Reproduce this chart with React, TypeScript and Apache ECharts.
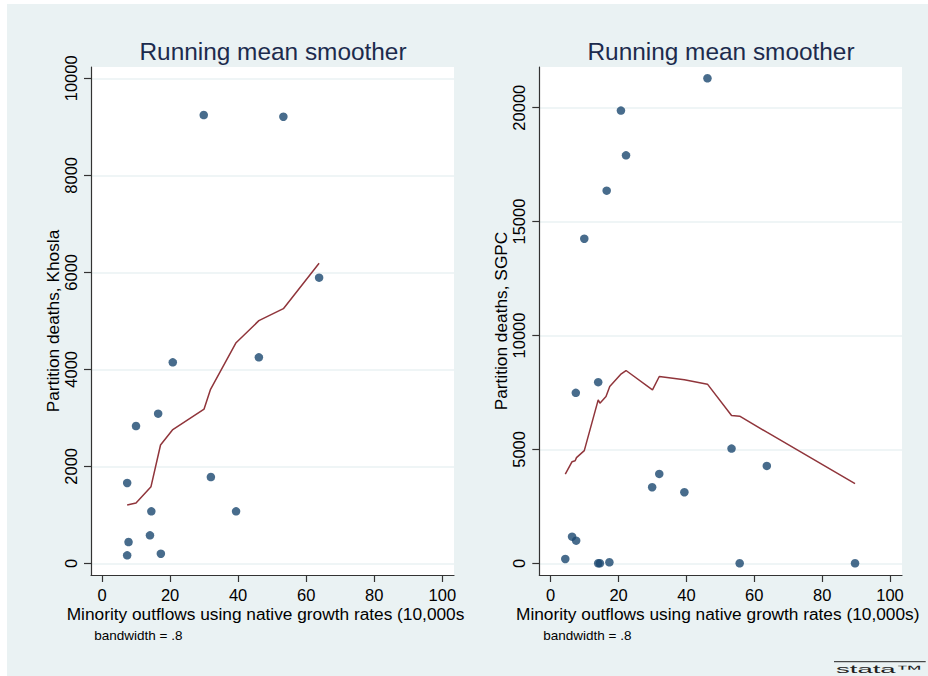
import React, { useEffect, useRef } from "react";
import * as echarts from "echarts";

// ---------- data ----------
const xTicks = [0, 20, 40, 60, 80, 100];
const khoslaTicks = [0, 2000, 4000, 6000, 8000, 10000];
const sgpcTicks = [0, 5000, 10000, 15000, 20000];

const khoslaX = [29.9, 53.3, 63.8, 20.8, 46.1, 16.5, 10.0, 7.4, 32.0, 14.5, 39.4, 14.1, 7.8, 7.4, 17.3];
const khoslaY = [9243, 9208, 5889, 4144, 4247, 3085, 2831, 1656, 1779, 1072, 1072, 577, 439, 165, 198];

const khoslaSmoothX = [7.4, 10.0, 14.4, 17.2, 20.7, 30.0, 31.9, 39.4, 46.1, 53.3, 63.8];
const khoslaSmoothY = [1202, 1243, 1580, 2439, 2749, 3181, 3588, 4549, 5003, 5250, 6186];

const sgpcX = [46.2, 20.7, 22.2, 16.5, 9.9, 14.0, 7.4, 53.3, 63.7, 32.0, 29.9, 39.4, 6.3, 7.5, 4.3, 14.0, 14.5, 17.3, 55.7, 89.7];
const sgpcY = [21292, 19873, 17909, 16358, 14249, 7952, 7482, 5035, 4275, 3924, 3339, 3119, 1169, 993, 189, 0, 0, 44, 0, 0];

const sgpcSmoothX = [4.3, 6.3, 7.2, 7.6, 9.9, 14.0, 14.5, 16.3, 17.4, 20.8, 22.2, 30.0, 32.0, 39.4, 46.2, 53.3, 55.7, 63.7, 89.7];
const sgpcSmoothY = [3910, 4460, 4500, 4640, 4945, 7175, 7030, 7320, 7760, 8317, 8463, 7614, 8199, 8053, 7864, 6487, 6458, 5755, 3497];

const titleText = "Running mean smoother";
const xTitle = "Minority outflows using native growth rates (10,000s)";
const yTitleLeft = "Partition deaths, Khosla";
const yTitleRight = "Partition deaths, SGPC";
const noteText = "bandwidth = .8";

// ---------- styling ----------
const FONT = "'Liberation Sans', Arial, sans-serif";
const AXIS_COLOR = "#333333";
const GRID_COLOR = "#eaf2f3";
const DOT_COLOR = "#1a476f";
const LINE_COLOR = "#90353b";
const TITLE_COLOR = "#1c2b4d";

function pairs(xs: number[], ys: number[]) {
  return xs.map((x, i) => [x, ys[i]]);
}

const plain = (v: number) => String(v);

function xAxisFor(gridIndex: number, min: number, max: number) {
  return {
    type: "value",
    gridIndex,
    min,
    max,
    axisLine: { show: true, onZero: false, lineStyle: { color: AXIS_COLOR, width: 1.2 } },
    axisTick: { show: true, length: 7, customValues: xTicks, lineStyle: { color: AXIS_COLOR, width: 1.2 } },
    axisLabel: { customValues: xTicks, formatter: plain, margin: 11, fontSize: 16.5, color: "#000", fontFamily: FONT },
    splitLine: { show: false },
  };
}

function yAxisFor(gridIndex: number, min: number, max: number, ticks: number[]) {
  return {
    type: "value",
    gridIndex,
    min,
    max,
    axisLine: { show: true, onZero: false, lineStyle: { color: AXIS_COLOR, width: 1.2 } },
    axisTick: { show: true, length: 7, customValues: ticks, lineStyle: { color: AXIS_COLOR, width: 1.2 } },
    axisLabel: { customValues: ticks, formatter: plain, rotate: 90, margin: 12, fontSize: 16.5, color: "#000", fontFamily: FONT },
    splitLine: { show: true, lineStyle: { color: GRID_COLOR, width: 1.6 } },
  };
}

export default function App() {
  const ref = useRef<HTMLDivElement>(null);

  useEffect(() => {
    if (!ref.current) return;
    const chart = echarts.init(ref.current, null, { renderer: "svg" });

    const option: any = {
      animation: false,
      backgroundColor: "transparent",
      grid: [
        { left: 91, top: 67, width: 363, height: 508, show: true, backgroundColor: "#ffffff", borderWidth: 0, outerBoundsMode: "none" },
        { left: 539.3, top: 67, width: 362.7, height: 508, show: true, backgroundColor: "#ffffff", borderWidth: 0, outerBoundsMode: "none" },
      ],
      xAxis: [xAxisFor(0, -3.23, 103.44), xAxisFor(1, -3.36, 103.54)],
      yAxis: [yAxisFor(0, -241, 10233, khoslaTicks), yAxisFor(1, -514, 21787, sgpcTicks)],
      series: [
        {
          type: "scatter", xAxisIndex: 0, yAxisIndex: 0, symbol: "circle", symbolSize: 8.5,
          itemStyle: { color: DOT_COLOR }, data: pairs(khoslaX, khoslaY), silent: true, z: 3,
        },
        {
          type: "line", xAxisIndex: 0, yAxisIndex: 0, showSymbol: false, symbol: "none",
          lineStyle: { color: LINE_COLOR, width: 1.5 }, data: pairs(khoslaSmoothX, khoslaSmoothY), silent: true, z: 4,
        },
        {
          type: "scatter", xAxisIndex: 1, yAxisIndex: 1, symbol: "circle", symbolSize: 8.5,
          itemStyle: { color: DOT_COLOR }, data: pairs(sgpcX, sgpcY), silent: true, z: 3,
        },
        {
          type: "line", xAxisIndex: 1, yAxisIndex: 1, showSymbol: false, symbol: "none",
          lineStyle: { color: LINE_COLOR, width: 1.5 }, data: pairs(sgpcSmoothX, sgpcSmoothY), silent: true, z: 4,
        },
      ],
      graphic: [
        { type: "text", x: 273, y: 51, style: { text: titleText, fill: TITLE_COLOR, font: `24.4px ${FONT}`, textAlign: "center", textVerticalAlign: "middle" } },
        { type: "text", x: 721, y: 51, style: { text: titleText, fill: TITLE_COLOR, font: `24.4px ${FONT}`, textAlign: "center", textVerticalAlign: "middle" } },
        { type: "text", x: 52.5, y: 321, rotation: Math.PI / 2, style: { text: yTitleLeft, fill: "#000", font: `17.3px ${FONT}`, textAlign: "center", textVerticalAlign: "middle" } },
        { type: "text", x: 501, y: 321, rotation: Math.PI / 2, style: { text: yTitleRight, fill: "#000", font: `17.3px ${FONT}`, textAlign: "center", textVerticalAlign: "middle" } },
        { type: "text", x: 66.7, y: 614, style: { text: xTitle, fill: "#000", font: `17.3px ${FONT}`, textAlign: "left", textVerticalAlign: "middle", width: 402, overflow: "truncate", ellipsis: "" } },
        { type: "text", x: 516, y: 614, style: { text: xTitle, fill: "#000", font: `17.3px ${FONT}`, textAlign: "left", textVerticalAlign: "middle" } },
        { type: "text", x: 94.3, y: 635, style: { text: noteText, fill: "#000", font: `13.5px ${FONT}`, textAlign: "left", textVerticalAlign: "middle" } },
        { type: "text", x: 543.3, y: 635, style: { text: noteText, fill: "#000", font: `13.5px ${FONT}`, textAlign: "left", textVerticalAlign: "middle" } },
        { type: "line", shape: { x1: 834, y1: 661.7, x2: 925.7, y2: 661.7 }, style: { stroke: "#222", lineWidth: 1 } },
        { type: "text", x: 836, y: 669, scaleX: 2.5, style: { text: "stata™", fill: "#222", font: `11px ${FONT}`, textAlign: "left", textVerticalAlign: "middle" } },
      ],
    };

    chart.setOption(option);
    return () => chart.dispose();
  }, []);

  return (
    <div style={{ position: "absolute", left: 0, top: 0, width: 928, height: 676, background: "#ffffff", overflow: "hidden" }}>
      <div style={{ position: "absolute", left: 7, top: 4, right: 0, bottom: 0, background: "#eaf2f3" }} />
      <div ref={ref} style={{ position: "absolute", left: 0, top: 0, width: 928, height: 676 }} />
    </div>
  );
}
